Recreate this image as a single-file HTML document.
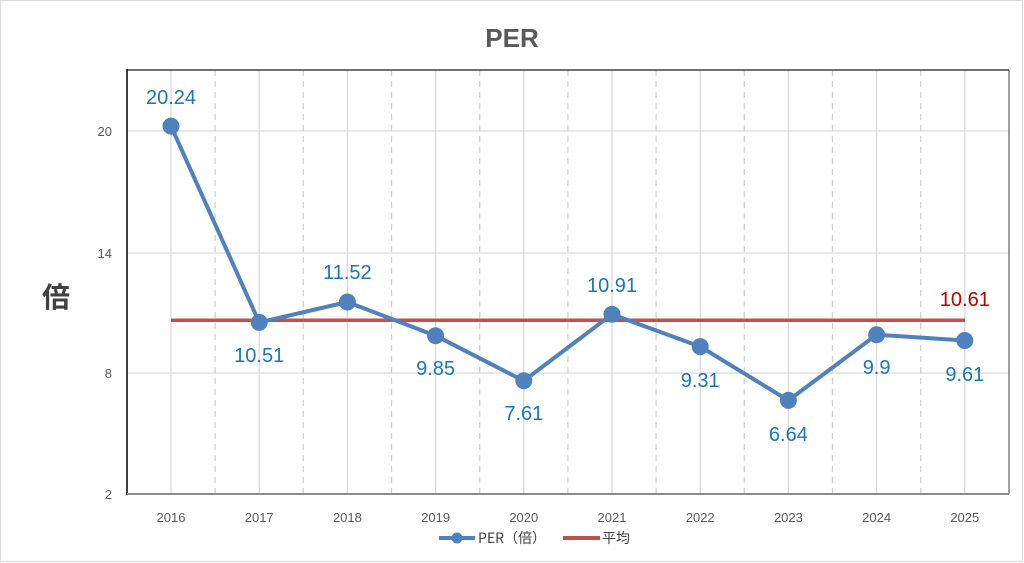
<!DOCTYPE html><html><head><meta charset="utf-8"><style>body{margin:0;background:#fff}svg{display:block}</style></head><body>
<svg width="1024" height="563" xmlns="http://www.w3.org/2000/svg" font-family="Liberation Sans, Noto Sans CJK JP, sans-serif">
<rect x="0.5" y="0.5" width="1022" height="561" fill="#fff" stroke="#d9d9d9"/>
<text x="512" y="47" text-anchor="middle" font-size="26" font-weight="bold" fill="#595959">PER</text>
<text x="56" y="307" text-anchor="middle" font-size="28" font-weight="bold" fill="#404040" font-family="Noto Sans CJK JP, sans-serif">倍</text>
<g stroke="#d9d9d9" stroke-width="1.3">
<line x1="127" y1="131" x2="1009" y2="131"/><line x1="127" y1="253" x2="1009" y2="253"/><line x1="127" y1="373" x2="1009" y2="373"/>
<line x1="171" y1="70" x2="171" y2="494"/><line x1="259.2" y1="70" x2="259.2" y2="494"/><line x1="347.4" y1="70" x2="347.4" y2="494"/><line x1="435.6" y1="70" x2="435.6" y2="494"/><line x1="523.8" y1="70" x2="523.8" y2="494"/><line x1="612" y1="70" x2="612" y2="494"/><line x1="700.2" y1="70" x2="700.2" y2="494"/><line x1="788.4" y1="70" x2="788.4" y2="494"/><line x1="876.6" y1="70" x2="876.6" y2="494"/><line x1="964.8" y1="70" x2="964.8" y2="494"/>
</g>
<g stroke="#d0d0d0" stroke-width="1.3" stroke-dasharray="6,5">
<line x1="215.1" y1="70" x2="215.1" y2="494"/><line x1="303.3" y1="70" x2="303.3" y2="494"/><line x1="391.5" y1="70" x2="391.5" y2="494"/><line x1="479.7" y1="70" x2="479.7" y2="494"/><line x1="567.9" y1="70" x2="567.9" y2="494"/><line x1="656.1" y1="70" x2="656.1" y2="494"/><line x1="744.3" y1="70" x2="744.3" y2="494"/><line x1="832.5" y1="70" x2="832.5" y2="494"/><line x1="920.7" y1="70" x2="920.7" y2="494"/>
</g>
<line x1="127" y1="70" x2="1009" y2="70" stroke="#404040" stroke-width="1.5"/>
<line x1="1009" y1="70" x2="1009" y2="494" stroke="#404040" stroke-width="1"/>
<line x1="127" y1="69" x2="127" y2="495" stroke="#000" stroke-width="1.5"/>
<line x1="127" y1="494" x2="1009" y2="494" stroke="#8c8c8c" stroke-width="2"/>
<g font-size="13" fill="#595959" text-anchor="end"><text x="112" y="136">20</text><text x="112" y="258">14</text><text x="112" y="378">8</text><text x="112" y="499">2</text></g>
<g font-size="13" fill="#595959" text-anchor="middle"><text x="171" y="522">2016</text><text x="259.2" y="522">2017</text><text x="347.4" y="522">2018</text><text x="435.6" y="522">2019</text><text x="523.8" y="522">2020</text><text x="612" y="522">2021</text><text x="700.2" y="522">2022</text><text x="788.4" y="522">2023</text><text x="876.6" y="522">2024</text><text x="964.8" y="522">2025</text></g>
<line x1="171" y1="320.3" x2="965" y2="320.3" stroke="#c0504d" stroke-width="3.5"/>
<polyline fill="none" stroke="#4f81bd" stroke-width="4" stroke-linejoin="round" points="171,126.1 259.2,322.4 347.4,302 435.6,335.7 523.8,380.8 612,314.3 700.2,346.6 788.4,400.4 876.6,334.7 964.8,340.5"/>
<g fill="#4f81bd"><circle cx="171" cy="126.1" r="8.5"/><circle cx="259.2" cy="322.4" r="8.5"/><circle cx="347.4" cy="302" r="8.5"/><circle cx="435.6" cy="335.7" r="8.5"/><circle cx="523.8" cy="380.8" r="8.5"/><circle cx="612" cy="314.3" r="8.5"/><circle cx="700.2" cy="346.6" r="8.5"/><circle cx="788.4" cy="400.4" r="8.5"/><circle cx="876.6" cy="334.7" r="8.5"/><circle cx="964.8" cy="340.5" r="8.5"/></g>
<g font-size="20" fill="#1b75bc" text-anchor="middle"><text x="171" y="104">20.24</text><text x="259.2" y="362">10.51</text><text x="347.4" y="279">11.52</text><text x="435.6" y="375">9.85</text><text x="523.8" y="420">7.61</text><text x="612" y="292">10.91</text><text x="700.2" y="387">9.31</text><text x="788.4" y="441">6.64</text><text x="876.6" y="374">9.9</text><text x="964.8" y="381">9.61</text></g>
<text x="964.8" y="306" font-size="20" fill="#c00000" text-anchor="middle">10.61</text>
<line x1="439" y1="538" x2="475" y2="538" stroke="#4f81bd" stroke-width="4"/><circle cx="457" cy="538" r="5.5" fill="#4f81bd"/>
<text x="478" y="543" font-size="14" fill="#404040" font-family="Noto Sans CJK JP, sans-serif">PER（倍）</text>
<line x1="563" y1="538" x2="600" y2="538" stroke="#c0504d" stroke-width="4"/>
<text x="602" y="543" font-size="14" fill="#404040" font-family="Noto Sans CJK JP, sans-serif">平均</text>
</svg></body></html>
